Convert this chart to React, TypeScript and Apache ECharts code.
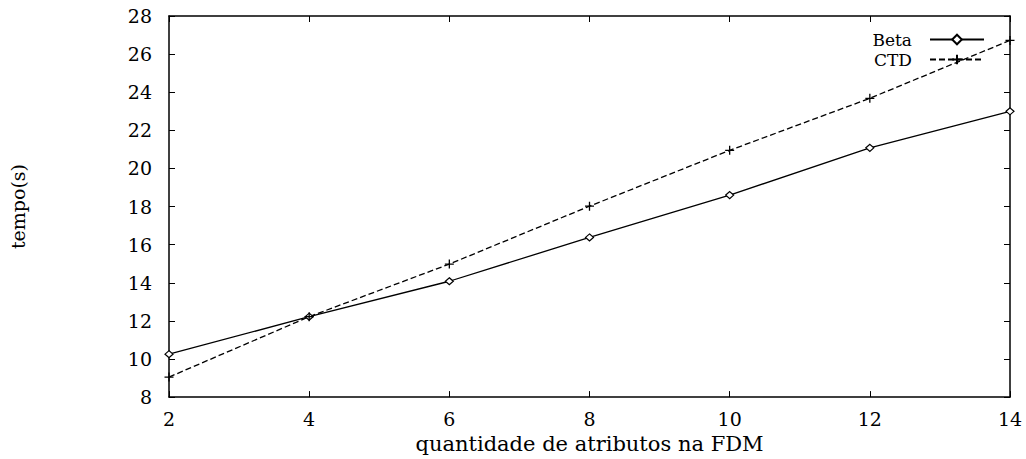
import React, { useEffect, useRef } from "react";
import * as echarts from "echarts";

const xValues = [2, 4, 6, 8, 10, 12, 14];
const betaValues = [10.25, 12.22, 14.08, 16.38, 18.6, 21.08, 23.0];
const ctdValues = [9.05, 12.22, 14.98, 18.02, 20.95, 23.68, 26.72];
const xTicks = [2, 4, 6, 8, 10, 12, 14];
const yTicks = [8, 10, 12, 14, 16, 18, 20, 22, 24, 26, 28];

const FONT = "DejaVu Serif";

export default function App() {
  const ref = useRef<HTMLDivElement>(null);
  useEffect(() => {
    if (!ref.current) return;
    const chart = echarts.init(ref.current, undefined, { renderer: "svg" });
    const axisCommon = {
      axisLine: { show: true, lineStyle: { color: "#000", width: 1.5 } },
      axisTick: { show: true, inside: true, length: 6, lineStyle: { color: "#000", width: 1 } },
      splitLine: { show: false },
    };
    chart.setOption({
      animation: false,
      backgroundColor: "#fff",
      grid: { left: 165, right: 16, top: 16, bottom: 42, containLabel: false },
      legend: {
        orient: "vertical",
        right: 36,
        top: 26,
        align: "right",
        itemWidth: 54,
        itemHeight: 12,
        itemGap: 3,
        textStyle: {
          fontFamily: FONT,
          fontSize: 17,
          lineHeight: 17,
          color: "#000",
          padding: [0, 13, 0, 0],
        },
        data: ["Beta", "CTD"],
      },
      xAxis: [
        {
          type: "value",
          min: xTicks[0],
          max: xTicks[xTicks.length - 1],
          interval: 2,
          ...axisCommon,
          axisLabel: { fontFamily: FONT, fontSize: 19, color: "#000", margin: 12 },
          name: "quantidade de atributos na FDM",
          nameLocation: "middle",
          nameGap: 34,
          nameTextStyle: { fontFamily: FONT, fontSize: 21, color: "#000" },
        },
        {
          type: "value",
          position: "top",
          min: xTicks[0],
          max: xTicks[xTicks.length - 1],
          interval: 2,
          ...axisCommon,
          axisLabel: { show: false },
        },
      ],
      yAxis: [
        {
          type: "value",
          min: yTicks[0],
          max: yTicks[yTicks.length - 1],
          interval: 2,
          ...axisCommon,
          axisLabel: { fontFamily: FONT, fontSize: 19, color: "#000", margin: 17 },
          name: "tempo(s)",
          nameLocation: "middle",
          nameGap: 142,
          nameRotate: 90,
          nameTextStyle: { fontFamily: FONT, fontSize: 19, color: "#000" },
        },
        {
          type: "value",
          position: "right",
          min: yTicks[0],
          max: yTicks[yTicks.length - 1],
          interval: 2,
          ...axisCommon,
          axisLabel: { show: false },
        },
      ],
      series: [
        {
          name: "Beta",
          type: "line",
          data: xValues.map((x, i) => [x, betaValues[i]]),
          symbol: "diamond",
          symbolSize: [8, 7],
          showAllSymbol: true,
          lineStyle: { color: "#000", width: 1.3, type: "solid" },
          itemStyle: { color: "#fff", borderColor: "#000", borderWidth: 1.2 },
        },
        {
          name: "CTD",
          type: "line",
          data: xValues.map((x, i) => [x, ctdValues[i]]),
          symbol: "path://M5,0 L5,10 M0,5 L10,5",
          symbolSize: 9,
          showAllSymbol: true,
          lineStyle: { color: "#000", width: 1.3, type: [6, 3] },
          itemStyle: { color: "#000", borderColor: "#000", borderWidth: 1.3 },
        },
      ],
    });
    return () => chart.dispose();
  }, []);
  return (
    <div
      ref={ref}
      style={{ position: "fixed", left: 0, top: 0, width: 1026, height: 459 }}
    />
  );
}
